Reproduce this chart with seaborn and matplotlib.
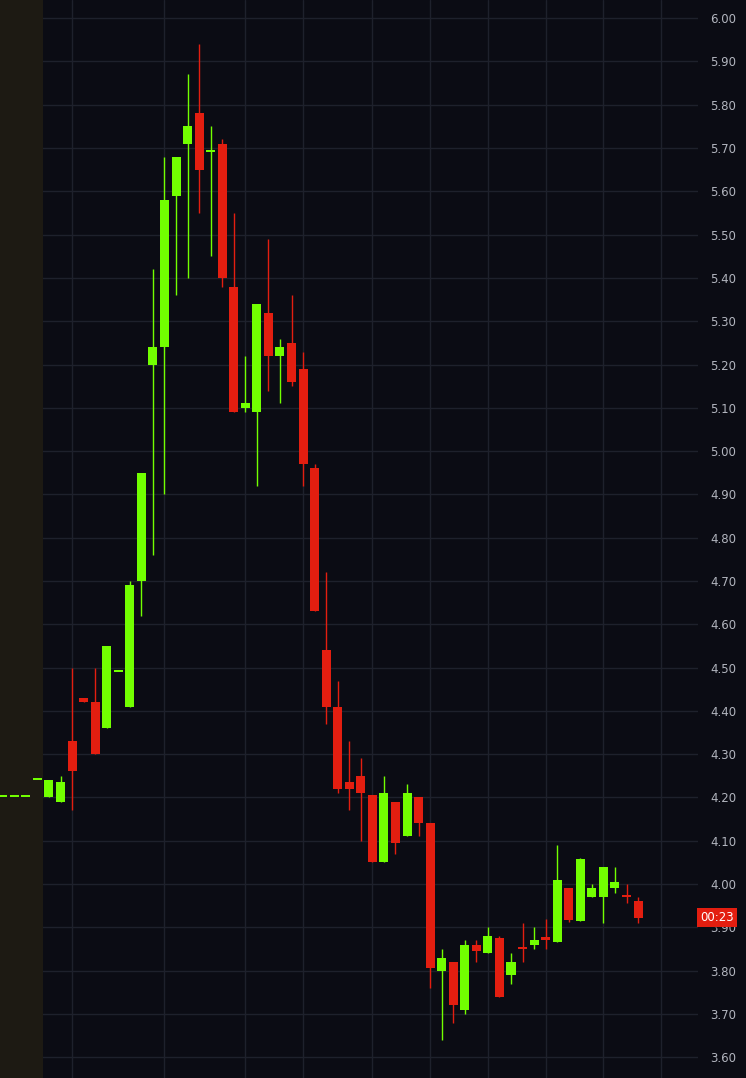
import numpy as np
import pandas as pd
import matplotlib
matplotlib.use("Agg")
import matplotlib.pyplot as plt
import seaborn as sns

# OHLC per bar (index 0 = first regular-session bar; negative = pre-market flats)
bar_idx = list(range(-4, 52))
opens = [4.20, 4.20, 4.20, 4.24,
         4.20, 4.19, 4.33, 4.43, 4.42, 4.36, 4.49, 4.41, 4.70, 5.20, 5.24, 5.59, 5.71, 5.78, 5.69, 5.71,
         5.38, 5.10, 5.09, 5.32, 5.22, 5.25, 5.19, 4.96, 4.54, 4.41, 4.235, 4.25, 4.205, 4.05, 4.19, 4.11,
         4.20, 4.14, 3.80, 3.82, 3.71, 3.86, 3.84, 3.875, 3.79, 3.855, 3.86, 3.877, 3.867, 3.99, 3.915, 3.97,
         3.97, 3.99, 3.975, 3.96]
highs = [4.20, 4.20, 4.20, 4.24,
         4.24, 4.25, 4.50, 4.43, 4.50, 4.55, 4.49, 4.70, 4.95, 5.42, 5.68, 5.68, 5.87, 5.94, 5.75, 5.72,
         5.55, 5.22, 5.34, 5.49, 5.26, 5.36, 5.23, 4.97, 4.72, 4.47, 4.33, 4.29, 4.205, 4.25, 4.19, 4.23,
         4.20, 4.14, 3.85, 3.82, 3.87, 3.87, 3.90, 3.88, 3.84, 3.91, 3.90, 3.92, 4.09, 3.99, 4.06, 4.00,
         4.04, 4.04, 4.00, 3.97]
lows = [4.20, 4.20, 4.20, 4.24,
        4.20, 4.19, 4.17, 4.42, 4.30, 4.36, 4.49, 4.41, 4.62, 4.76, 4.90, 5.36, 5.40, 5.55, 5.45, 5.38,
        5.09, 5.09, 4.92, 5.14, 5.11, 5.15, 4.92, 4.63, 4.37, 4.21, 4.17, 4.10, 4.05, 4.05, 4.07, 4.11,
        4.11, 3.76, 3.64, 3.68, 3.70, 3.82, 3.84, 3.74, 3.77, 3.82, 3.85, 3.85, 3.865, 3.913, 3.915, 3.97,
        3.91, 3.98, 3.957, 3.91]
closes = [4.20, 4.20, 4.20, 4.24,
          4.24, 4.235, 4.26, 4.42, 4.30, 4.55, 4.49, 4.69, 4.95, 5.24, 5.58, 5.68, 5.75, 5.65, 5.69, 5.40,
          5.09, 5.11, 5.34, 5.22, 5.24, 5.16, 4.97, 4.63, 4.41, 4.22, 4.22, 4.21, 4.05, 4.21, 4.095, 4.21,
          4.14, 3.805, 3.83, 3.72, 3.86, 3.845, 3.88, 3.74, 3.82, 3.85, 3.87, 3.87, 4.01, 3.918, 4.058, 3.99,
          4.04, 4.005, 3.97, 3.922]

price_ticks = [3.60, 3.70, 3.80, 3.90, 4.00, 4.10, 4.20, 4.30, 4.40, 4.50, 4.60,
               4.70, 4.80, 4.90, 5.00, 5.10, 5.20, 5.30, 5.40, 5.50, 5.60, 5.70, 5.80, 5.90, 6.00]
vgrid_idx = [-3, 2, 10, 17, 22, 28, 33, 38, 43, 48, 53]
last_label = "00:23"

BG = "#0b0c14"
GRID = "#1e212c"
UP = "#72ff00"
DOWN = "#e31e10"

df = pd.DataFrame({"i": bar_idx, "o": opens, "h": highs, "l": lows, "c": closes})
df["up"] = df["c"] >= df["o"]
df["col"] = np.where(df["up"], UP, DOWN)
df["bot"] = df[["o", "c"]].min(axis=1)
df["hgt"] = (df["o"] - df["c"]).abs().clip(lower=0.005)

sns.set_style("dark", {"axes.facecolor": BG, "figure.facecolor": BG})

fig = plt.figure(figsize=(7.46, 10.78), dpi=100)
ax = fig.add_axes([0, 0, 698 / 746, 1])
ax.set_facecolor(BG)

for p in price_ticks:
    ax.axhline(p, color=GRID, lw=1, zorder=0)
for v in vgrid_idx:
    ax.axvline(v, color=GRID, lw=1, zorder=0)

xmin, xmax = -4.24, 56.19
ax.axvspan(xmin, -0.52, color="#1d1a13", zorder=0.5, lw=0)

ax.vlines(df["i"], df["l"], df["h"], colors=df["col"], lw=1, zorder=2)
ax.bar(df["i"], df["hgt"], bottom=df["bot"], width=0.78, color=df["col"], zorder=3, lw=0)

ax.set_xlim(xmin, xmax)
ax.set_ylim(3.552, 6.042)
ax.set_xticks([])
ax.yaxis.tick_right()
ax.set_yticks(price_ticks)
ax.set_yticklabels([f"{p:.2f}" for p in price_ticks], color="#b2b5be", fontsize=8.5)
ax.tick_params(axis="y", length=0, pad=9)
for s in ax.spines.values():
    s.set_visible(False)

last = df["c"].iloc[-1]
ax.text(1.0 + 2 / 698, last, last_label, transform=ax.get_yaxis_transform(),
        ha="left", va="center", color="white", fontsize=8.5, clip_on=False, zorder=5,
        bbox=dict(boxstyle="square,pad=0.25", fc=DOWN, ec="none"))

fig.savefig("out.png", dpi=100, facecolor=BG)
